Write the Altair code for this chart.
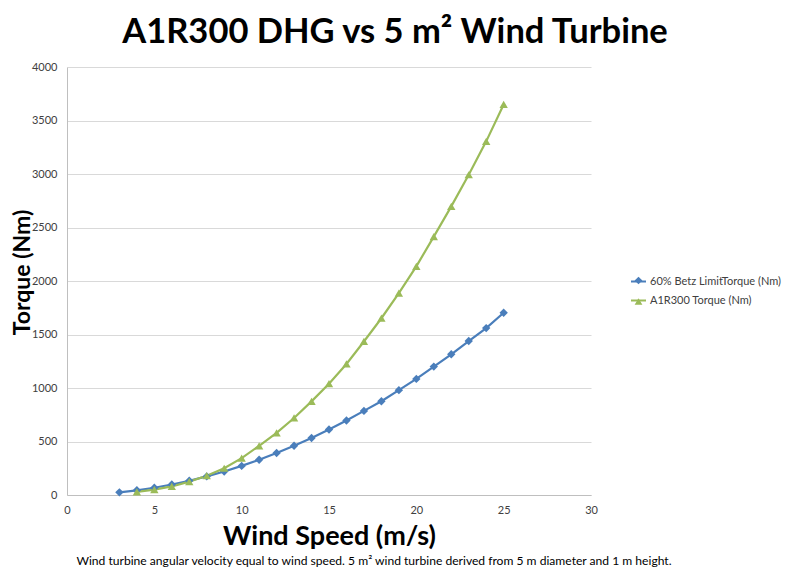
import altair as alt
import pandas as pd

# ---- data ----
betz_speed = [3, 4, 5, 6, 7, 8, 9, 10, 11, 12, 13, 14, 15, 16, 17, 18, 19, 20, 21, 22, 23, 24, 25]
betz_torque = [25, 44, 68, 98, 133, 174, 220, 272, 329, 392, 460, 533, 612, 696, 786, 876,
               980, 1085, 1200, 1315, 1439, 1560, 1703]
a1r_speed = [4, 5, 6, 7, 8, 9, 10, 11, 12, 13, 14, 15, 16, 17, 18, 19, 20, 21, 22, 23, 24, 25]
a1r_torque = [30, 50, 80, 125, 180, 250, 345, 460, 580, 720, 875, 1040, 1225, 1435, 1652,
              1887, 2137, 2415, 2697, 2993, 3305, 3650]
series_names = ["60% Betz LimitTorque (Nm)", "A1R300 Torque (Nm)"]
series_colors = ["#4A7EBB", "#9BBB59"]
series_shapes = ["diamond", "triangle-up"]
caption = ["Wind turbine angular velocity equal to wind speed. 5 m\u00b2  wind turbine derived from 5 m diameter and 1 m height."]

df = pd.concat([
    pd.DataFrame({"speed": betz_speed, "torque": betz_torque, "series": series_names[0]}),
    pd.DataFrame({"speed": a1r_speed, "torque": a1r_torque, "series": series_names[1]}),
])
df["marker"] = df["series"]

FONT = "Lato"
LX, LY = 563, 206

x = alt.X("speed:Q", title="Wind Speed (m/s)",
          scale=alt.Scale(domain=[0, 30], nice=False),
          axis=alt.Axis(values=[0, 5, 10, 15, 20, 25, 30], format="d", grid=False, ticks=False,
                        labelFlush=False, labelPadding=9, titlePadding=8, titleFontSize=27,
                        titleFont=FONT, titleFontWeight="bold", titleColor="#000000"))
y = alt.Y("torque:Q", title="Torque (Nm)",
          scale=alt.Scale(domain=[0, 4000], nice=False),
          axis=alt.Axis(values=list(range(0, 4001, 500)), format="d", ticks=False,
                        labelFlush=False, labelPadding=10,
                        titleFontSize=23, titleFont=FONT, titleFontWeight="bold",
                        titleColor="#000000", titleX=-38, titleY=205,
                        titleBaseline="alphabetic", titleAlign="center", titleAngle=270))

stroke = alt.Stroke("series:N", scale=alt.Scale(domain=series_names, range=series_colors),
                    legend=alt.Legend(title=None, orient="none", legendX=LX, legendY=LY,
                                      symbolType="stroke", symbolSize=225, symbolStrokeWidth=2,
                                      labelFont=FONT, labelFontSize=11, labelColor="#404040",
                                      labelOffset=3, rowPadding=5))
marker_legend = dict(title=None, orient="none", legendX=LX + 3, legendY=LY + 2,
                     symbolSize=60, symbolStrokeWidth=0, labelExpr="''",
                     labelFont=FONT, labelFontSize=11, rowPadding=9)
fill = alt.Fill("marker:N", scale=alt.Scale(range=series_colors),
                legend=alt.Legend(**marker_legend))
shape = alt.Shape("marker:N", scale=alt.Scale(range=series_shapes),
                  legend=alt.Legend(**marker_legend))

base = alt.Chart(df)
lines = base.mark_line(strokeWidth=2.2).encode(x=x, y=y, stroke=stroke, detail="series:N")
pts = base.mark_point(filled=True, size=70, opacity=1, strokeWidth=0).encode(
    x=x, y=y, fill=fill, shape=shape)

cap = alt.Chart(pd.DataFrame({"t": caption})).mark_text(
    font=FONT, fontSize=12.1, color="#000000", align="center", baseline="middle"
).encode(text="t:N", x=alt.value(307), y=alt.value(494))

chart = alt.layer(lines, pts, cap).properties(
    width=524, height=428,
    autosize=alt.AutoSizeParams(type="none"),
    padding={"left": 59, "top": 59, "right": 201, "bottom": 78},
    title=alt.TitleParams("A1R300 DHG vs 5 m\u00b2  Wind Turbine", font=FONT, fontSize=34.5,
                          fontWeight="bold", color="#000000", anchor="middle", dx=66,
                          offset=11),
).configure_view(stroke=None).configure_axis(
    labelFont=FONT, labelFontSize=11, labelColor="#404040",
    gridColor="#D9D9D9", gridWidth=1, domainColor="#BFBFBF", domainWidth=1,
)

chart.save("out.html", embed_options={"renderer": "svg", "actions": False})
